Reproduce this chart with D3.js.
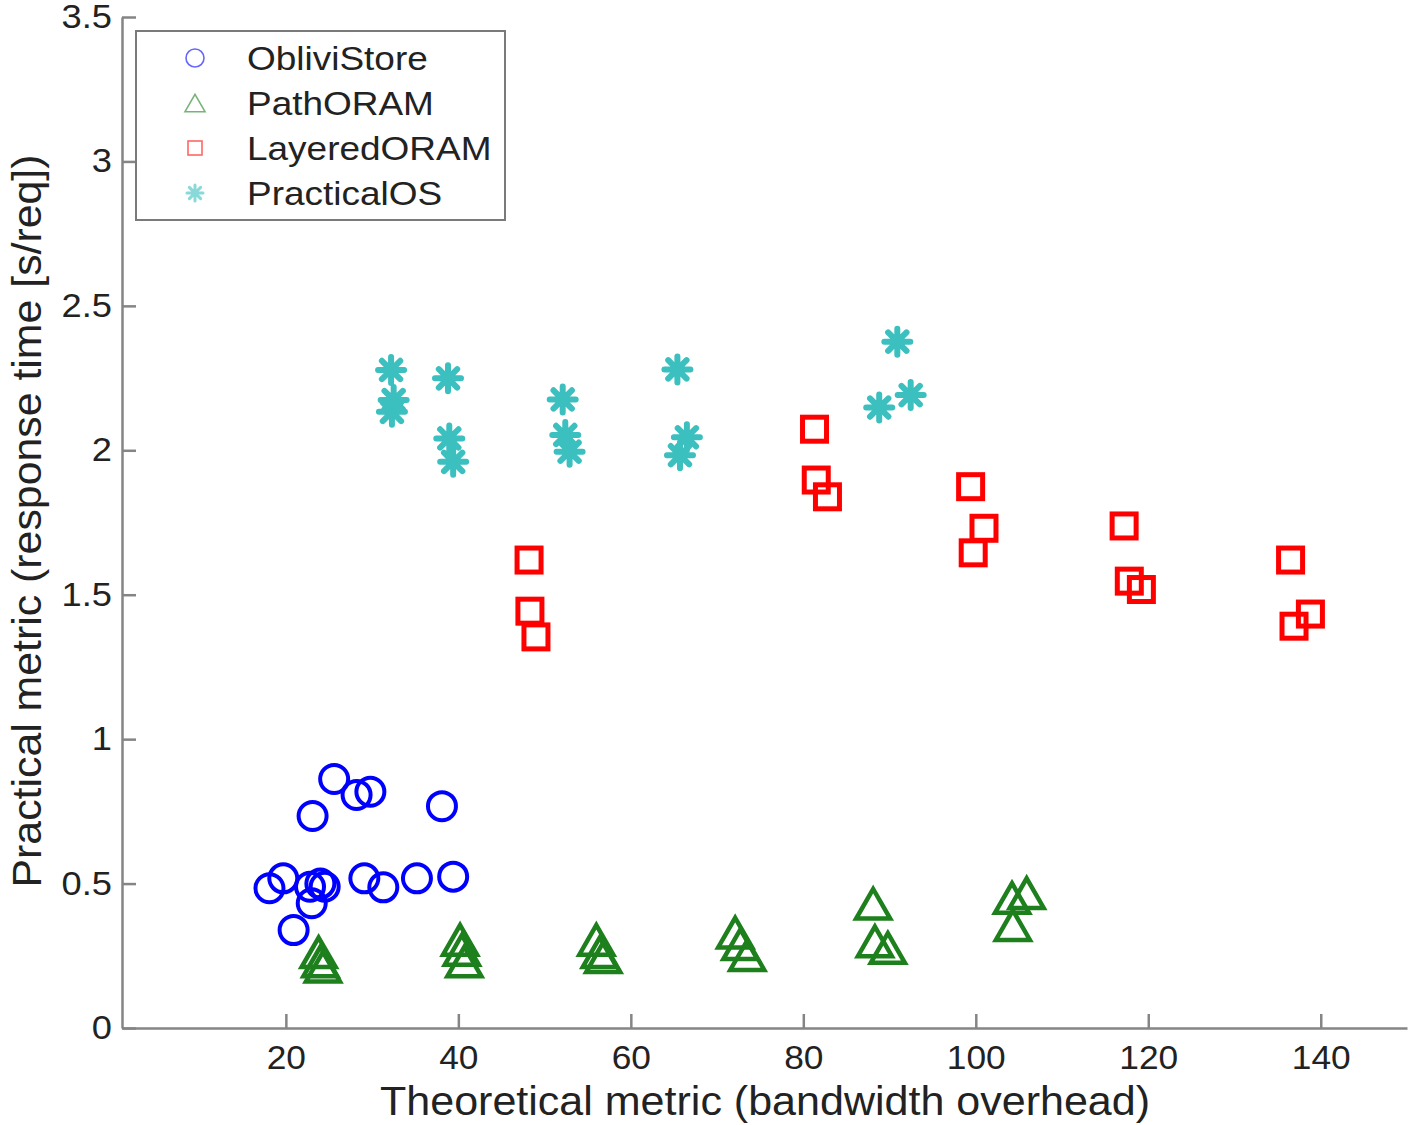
<!DOCTYPE html>
<html lang="en">
<head>
<meta charset="UTF-8">
<title>Practical vs theoretical metric</title>
<script src="https://d3js.org/d3.v7.min.js"></script>
<style>
    html, body { margin: 0; padding: 0; background: #fff; }
    svg { display: block; font-family: "Liberation Sans", Arial, sans-serif; }
    .axis path, .axis line { stroke: #858585; stroke-width: 2.5; }
    .axis text { fill: #222; font-size: 33px; }
    .label { fill: #222; font-size: 41px; }
    .legend text { fill: #222; font-size: 33px; }
</style>
</head>
<body>
<svg id="chart" width="1410" height="1125"></svg>
<script>
// data: [bandwidth overhead, response time]
var obliviStore = [
    [25.6, 0.862], [28.2, 0.807], [29.8, 0.818], [23.1, 0.734], [38.1, 0.768],
    [18.1, 0.484], [19.7, 0.518], [23.0, 0.432], [22.8, 0.489], [24.0, 0.500],
    [24.5, 0.489], [20.9, 0.339], [29.1, 0.518], [31.3, 0.487], [35.2, 0.518],
    [39.4, 0.524]
];
var pathORAM = [
    [23.8, 0.262], [24.0, 0.230], [24.3, 0.212],
    [40.2, 0.305], [40.4, 0.270], [40.7, 0.230],
    [56.0, 0.305], [56.4, 0.262], [56.8, 0.245],
    [72.1, 0.330], [72.7, 0.290], [73.5, 0.252],
    [88.1, 0.430], [88.3, 0.300], [89.8, 0.277],
    [104.2, 0.450], [105.9, 0.467], [104.3, 0.356]
];
var layeredORAM = [
    [48.2, 1.620], [48.3, 1.443], [49.0, 1.354],
    [81.3, 2.073], [81.5, 1.897], [82.8, 1.839],
    [99.4, 1.874], [100.95, 1.730], [99.7, 1.645],
    [117.2, 1.738], [117.8, 1.547], [119.2, 1.518],
    [136.5, 1.620], [138.8, 1.433], [136.9, 1.391]
];
var practicalOS = [
    [32.2, 2.278], [32.5, 2.174], [32.3, 2.133],
    [38.8, 2.249], [38.95, 2.041], [39.4, 1.960],
    [52.1, 2.176], [52.4, 2.053], [52.9, 1.995],
    [65.4, 2.280], [66.5, 2.045], [65.7, 1.983],
    [90.9, 2.376], [88.8, 2.148], [92.45, 2.191]
];
var seriesNames = ["ObliviStore", "PathORAM", "LayeredORAM", "PracticalOS"];
var seriesColors = ["#0000ff", "#1d801d", "#ff0000", "#3cbfbf"];
var xTicks = [20, 40, 60, 80, 100, 120, 140];
var yTicks = [0, 0.5, 1, 1.5, 2, 2.5, 3, 3.5];

var svg = d3.select("#chart");

var x = d3.scaleLinear().domain([1, 150]).range([122, 1407]);
var y = d3.scaleLinear().domain([0, 3.5]).range([1028, 17]);

// the source figure's text is a bit wider than Liberation Sans, stretch it
function stretch(sel, k) {
    sel.each(function() {
        var w = this.getComputedTextLength();
        d3.select(this).attr("textLength", w * k).attr("lengthAdjust", "spacingAndGlyphs");
    });
}

// axes, ticks point inward
var xAxis = svg.append("g")
    .attr("class", "axis")
    .attr("transform", "translate(0,1028)")
    .call(d3.axisBottom(x).tickValues(xTicks).tickSizeInner(-14).tickSizeOuter(0).tickPadding(18));

var yAxis = svg.append("g")
    .attr("class", "axis")
    .attr("transform", "translate(122,0)")
    .call(d3.axisLeft(y).tickValues(yTicks).tickFormat(d3.format("~g")).tickSizeInner(-14).tickSizeOuter(0).tickPadding(10));

stretch(xAxis.selectAll("text"), 1.07);
stretch(yAxis.selectAll("text"), 1.1);

svg.append("text")
    .attr("class", "label")
    .attr("x", 765).attr("y", 1115)
    .attr("text-anchor", "middle")
    .attr("textLength", 770).attr("lengthAdjust", "spacingAndGlyphs")
    .text("Theoretical metric (bandwidth overhead)");

svg.append("text")
    .attr("class", "label")
    .attr("transform", "translate(41,521) rotate(-90)")
    .attr("text-anchor", "middle")
    .attr("textLength", 733).attr("lengthAdjust", "spacingAndGlyphs")
    .text("Practical metric (response time [s/req])");

// marker helpers
function trianglePath(s) {
    var h = s * 0.87;
    return "M0," + (-h / 2) + "L" + (s / 2) + "," + (h / 2) + "L" + (-s / 2) + "," + (h / 2) + "Z";
}
function asteriskPath(s) {
    var r = s / 2, d = r * 0.707;
    return "M" + (-r) + ",0L" + r + ",0M0," + (-r) + "L0," + r +
        "M" + (-d) + "," + (-d) + "L" + d + "," + d + "M" + (-d) + "," + d + "L" + d + "," + (-d);
}

var plot = svg.append("g");

plot.selectAll(".os")
    .data(obliviStore)
    .enter().append("circle")
    .attr("cx", function(d) { return x(d[0]); })
    .attr("cy", function(d) { return y(d[1]); })
    .attr("r", 14)
    .attr("fill", "none")
    .attr("stroke", seriesColors[0])
    .attr("stroke-width", 4);

plot.selectAll(".po")
    .data(pathORAM)
    .enter().append("path")
    .attr("transform", function(d) { return "translate(" + x(d[0]) + "," + y(d[1]) + ")"; })
    .attr("d", trianglePath(34))
    .attr("fill", "none")
    .attr("stroke", seriesColors[1])
    .attr("stroke-width", 4.5)
    .attr("stroke-linejoin", "miter");

plot.selectAll(".lo")
    .data(layeredORAM)
    .enter().append("rect")
    .attr("x", function(d) { return x(d[0]) - 12; })
    .attr("y", function(d) { return y(d[1]) - 12; })
    .attr("width", 24).attr("height", 24)
    .attr("fill", "none")
    .attr("stroke", seriesColors[2])
    .attr("stroke-width", 5);

plot.selectAll(".pos")
    .data(practicalOS)
    .enter().append("path")
    .attr("transform", function(d) { return "translate(" + x(d[0]) + "," + y(d[1]) + ")"; })
    .attr("d", asteriskPath(26))
    .attr("fill", "none")
    .attr("stroke", seriesColors[3])
    .attr("stroke-width", 6)
    .attr("stroke-linecap", "round");

// legend
var legend = svg.append("g").attr("class", "legend");
legend.append("rect")
    .attr("x", 136).attr("y", 31).attr("width", 369).attr("height", 189)
    .attr("fill", "#fff").attr("stroke", "#7a7a7a").attr("stroke-width", 2);

var rows = legend.selectAll(".row")
    .data(seriesNames)
    .enter().append("g")
    .attr("transform", function(d, i) { return "translate(195," + (58 + i * 45) + ")"; });

rows.append("text")
    .attr("x", 52).attr("y", 12)
    .text(function(d) { return d; });

stretch(rows.selectAll("text"), 1.12);

rows.each(function(d, i) {
    var g = d3.select(this), c = seriesColors[i];
    if (i === 0) g.append("circle").attr("r", 9);
    if (i === 1) g.append("path").attr("d", trianglePath(20));
    if (i === 2) g.append("rect").attr("x", -7).attr("y", -7).attr("width", 14).attr("height", 14);
    if (i === 3) g.append("path").attr("d", asteriskPath(16)).attr("stroke-linecap", "round");
    g.select(":not(text)")
        .attr("fill", "none")
        .attr("stroke", c)
        .attr("stroke-opacity", 0.6)
        .attr("stroke-width", i === 3 ? 3 : 1.6);
});
</script>
</body>
</html>
